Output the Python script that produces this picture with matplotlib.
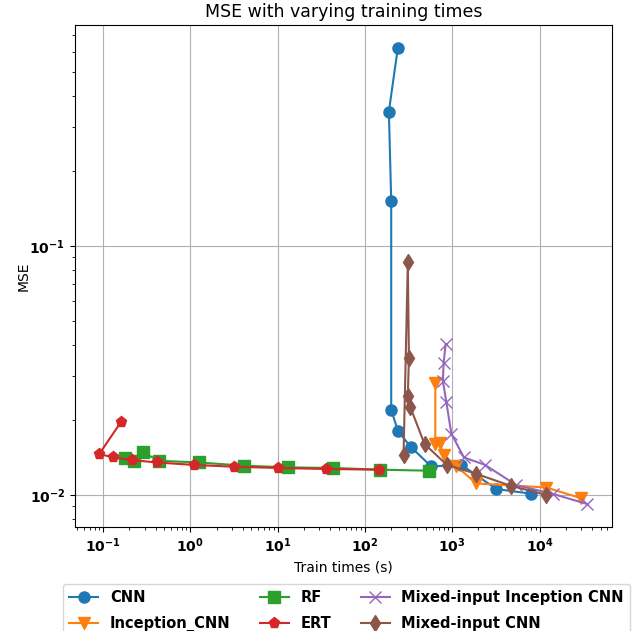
import numpy as np
import matplotlib.pyplot as plt

# train time (s) and MSE for each model
cnn_t = [238, 188, 200, 200, 238, 333, 576, 1271, 3206, 8070]
cnn_mse = [0.623, 0.346, 0.152, 0.0220, 0.0181, 0.0156, 0.0130, 0.0132, 0.01055, 0.0101]

inc_t = [640, 640, 717, 800, 1114, 1890, 12000, 29700]
inc_mse = [0.0282, 0.0160, 0.0161, 0.0144, 0.01303, 0.01111, 0.01070, 0.00970]

rf_t = [0.178, 0.228, 0.284, 0.441, 1.24, 4.16, 13.1, 42.9, 147, 541]
rf_mse = [0.0140, 0.0137, 0.0148, 0.0137, 0.01349, 0.01309, 0.01289, 0.01282, 0.01262, 0.01250]

ert_t = [0.160, 0.0905, 0.131, 0.212, 0.415, 1.11, 3.14, 10.2, 36.0, 144]
ert_mse = [0.0196, 0.01459, 0.01413, 0.01379, 0.01349, 0.01318, 0.01297, 0.01282, 0.01270, 0.01262]

mix_inc_t = [840, 796, 782, 856, 977, 1362, 2354, 5436, 14170, 35400]
mix_inc_mse = [0.0403, 0.0337, 0.0286, 0.0236, 0.0176, 0.01413, 0.01321, 0.01094, 0.01009, 0.00918]

mix_t = [277, 310, 319, 310, 331, 482, 869, 1854, 4676, 12000]
mix_mse = [0.01449, 0.0859, 0.0355, 0.0249, 0.0225, 0.0160, 0.01318, 0.01217, 0.01087, 0.01000]

fig = plt.figure(figsize=(6.4, 6.31), dpi=100)
ax = fig.add_subplot(111)
fig.subplots_adjust(left=0.117, right=0.956, top=0.960, bottom=0.165)

ms = 8
ax.plot(cnn_t, cnn_mse, marker='o', ms=ms, label='CNN')
ax.plot(inc_t, inc_mse, marker='v', ms=ms + 1, label='Inception_CNN')
ax.plot(rf_t, rf_mse, marker='s', ms=ms, label='RF')
ax.plot(ert_t, ert_mse, marker='p', ms=ms, label='ERT')
ax.plot(mix_inc_t, mix_inc_mse, marker='x', ms=ms, label='Mixed-input Inception CNN')
ax.plot(mix_t, mix_mse, marker='d', ms=ms, label='Mixed-input CNN')

ax.set_xscale('log')
ax.set_yscale('log')
ax.grid(True)
ax.set_title('MSE with varying training times', fontsize=12.5)
ax.set_xlabel('Train times (s)')
ax.set_ylabel('MSE', labelpad=-1)
ax.tick_params(labelsize=10)
for lab in ax.get_xticklabels() + ax.get_yticklabels():
    lab.set_fontweight('bold')

ax.legend(loc='upper center', bbox_to_anchor=(0.506, -0.099), ncol=3,
          labelspacing=0.75, prop={'weight': 'bold', 'size': 10.5})

fig.savefig('out.png')
